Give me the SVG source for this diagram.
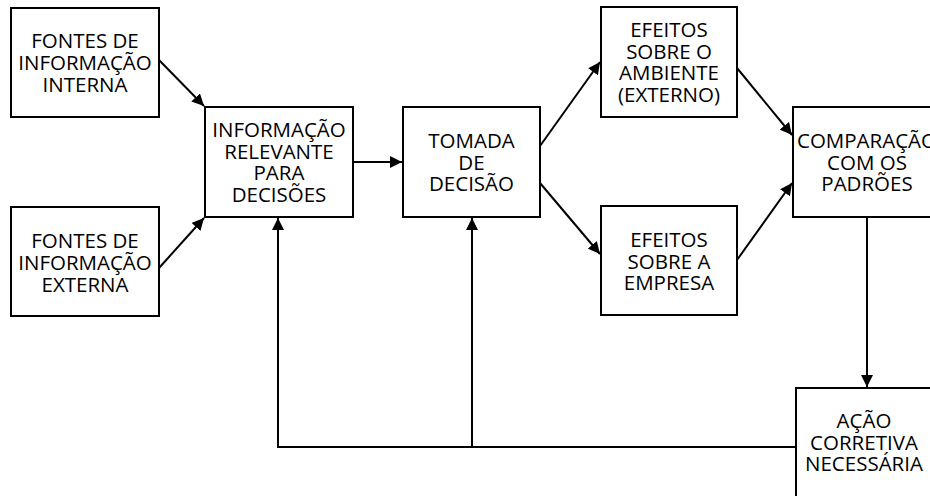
<svg xmlns="http://www.w3.org/2000/svg" width="930" height="496" viewBox="0 0 930 496">
<style>
.box{fill:#fff;stroke:#000;stroke-width:2}
.lbl{font-family:"Open Sans","Noto Sans",sans-serif;font-size:20.5px;fill:#000;text-anchor:middle}
.con{fill:none;stroke:#000;stroke-width:2}
</style>
<defs>
<marker id="ah" viewBox="0 0 10 10" refX="10" refY="5" markerWidth="6" markerHeight="6" orient="auto" markerUnits="strokeWidth">
<path d="M0,0 L10,5 L0,10 z" fill="#000"/>
</marker>
</defs>
<rect width="930" height="496" fill="#fff"/>
<g id="connectors">
<line class="con" x1="159" y1="60" x2="204" y2="106" marker-end="url(#ah)"/>
<line class="con" x1="159" y1="268" x2="204" y2="218" marker-end="url(#ah)"/>
<line class="con" x1="353" y1="162" x2="402" y2="162" marker-end="url(#ah)"/>
<line class="con" x1="540" y1="146" x2="600" y2="62" marker-end="url(#ah)"/>
<line class="con" x1="540" y1="183" x2="600" y2="254" marker-end="url(#ah)"/>
<line class="con" x1="737" y1="68" x2="792" y2="135" marker-end="url(#ah)"/>
<line class="con" x1="737" y1="260" x2="792" y2="183" marker-end="url(#ah)"/>
<line class="con" x1="867" y1="217" x2="867" y2="387" marker-end="url(#ah)"/>
<polyline class="con" points="796,447 278,447 278,218" marker-end="url(#ah)"/>
<line class="con" x1="472" y1="447" x2="472" y2="218" marker-end="url(#ah)"/>
</g>
<g id="n1"><rect class="box" x="11" y="8" width="148" height="109"/>
<text class="lbl"><tspan x="85" y="48">FONTES DE</tspan><tspan x="85" y="70">INFORMAÇÃO</tspan><tspan x="85" y="92">INTERNA</tspan></text></g>
<g id="n2"><rect class="box" x="11" y="207" width="148" height="109"/>
<text class="lbl"><tspan x="85" y="248">FONTES DE</tspan><tspan x="85" y="270">INFORMAÇÃO</tspan><tspan x="85" y="292">EXTERNA</tspan></text></g>
<g id="n3"><rect class="box" x="205" y="107" width="148" height="110"/>
<text class="lbl"><tspan x="279" y="137">INFORMAÇÃO</tspan><tspan x="279" y="158.7">RELEVANTE</tspan><tspan x="279" y="180.4">PARA</tspan><tspan x="279" y="202">DECISÕES</tspan></text></g>
<g id="n4"><rect class="box" x="403" y="107" width="137" height="110"/>
<text class="lbl"><tspan x="471.5" y="148">TOMADA</tspan><tspan x="471.5" y="169.7">DE</tspan><tspan x="471.5" y="191.4">DECISÃO</tspan></text></g>
<g id="n5"><rect class="box" x="601" y="7" width="136" height="110"/>
<text class="lbl"><tspan x="669" y="37">EFEITOS</tspan><tspan x="669" y="58.7">SOBRE O</tspan><tspan x="669" y="80.4">AMBIENTE</tspan><tspan x="669" y="102">(EXTERNO)</tspan></text></g>
<g id="n6"><rect class="box" x="601" y="206" width="136" height="109"/>
<text class="lbl"><tspan x="669" y="247">EFEITOS</tspan><tspan x="669" y="268.7">SOBRE A</tspan><tspan x="669" y="290.4">EMPRESA</tspan></text></g>
<g id="n7"><rect class="box" x="793" y="107" width="148" height="110"/>
<text class="lbl"><tspan x="867" y="148">COMPARAÇÃO</tspan><tspan x="867" y="169.7">COM OS</tspan><tspan x="867" y="191.4">PADRÕES</tspan></text></g>
<g id="n8"><rect class="box" x="796" y="388" width="136" height="110"/>
<text class="lbl"><tspan x="864" y="428">AÇÃO</tspan><tspan x="864" y="449.7">CORRETIVA</tspan><tspan x="864" y="471.4">NECESSÁRIA</tspan></text></g>
</svg>
